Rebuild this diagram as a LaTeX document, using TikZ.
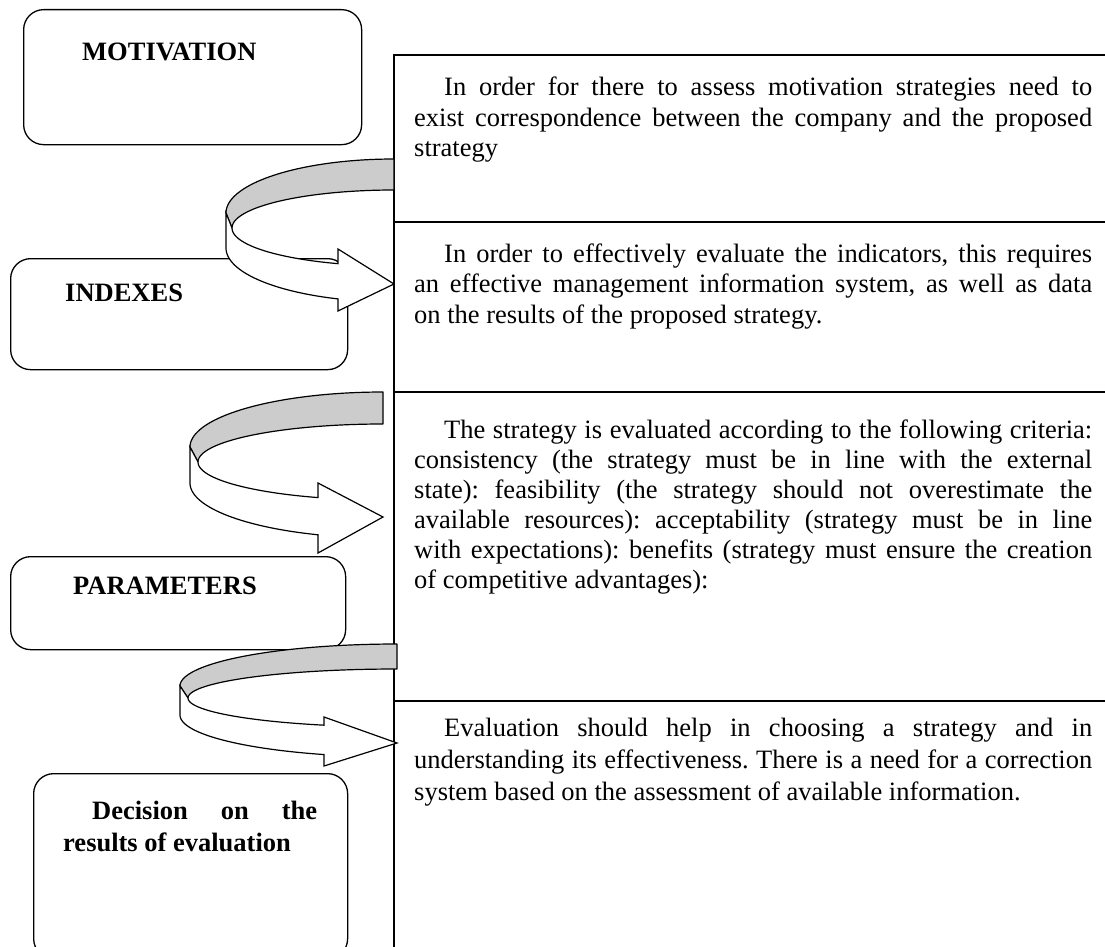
\documentclass[tikz,border=0pt]{standalone}
\usepackage{fontspec}
\setmainfont{Liberation Serif}
\tolerance=10000
\hbadness=10000
\emergencystretch=0pt
\frenchspacing

% parameters of a curved ribbon arrow
\pgfkeys{/rib/.is family,
  /rib/xr/.store in=\rbXr,  /rib/yo/.store in=\rbYo,
  /rib/a/.store in=\rbA,    /rib/b/.store in=\rbB,
  /rib/t/.store in=\rbT,    /rib/yi/.store in=\rbYi,
  /rib/ai/.store in=\rbAi,  /rib/bi/.store in=\rbBi,
  /rib/xb/.store in=\rbXb,  /rib/top/.store in=\rbHt,
  /rib/bot/.store in=\rbHb, /rib/tip/.store in=\rbTip}

% #1 name of the tip coordinate, #2 geometry keys
\newcommand\ribbonarrow[2]{%
  \pgfkeys{/rib,#2}%
  \pgfmathsetmacro\rbTb{acos((\rbXb-\rbXr)/\rbA)}%
  \pgfmathsetmacro\rbTi{acos((\rbXb-\rbXr)/\rbAi)}%
  % back (grey) face of the ribbon
  \filldraw[ribbon back] (\rbXr,\rbYo-\rbB)
    -- plot[domain=270:180,samples=50] ({\rbXr+\rbA*cos(\x)},{\rbYo+\rbB*sin(\x)})
    -- (\rbXr-\rbAi,\rbYi)
    -- plot[domain=180:270,samples=50] ({\rbXr+\rbAi*cos(\x)},{\rbYi+\rbBi*sin(\x)})
    -- cycle;
  % front (white) face with the arrow head
  \filldraw[ribbon front] (\rbXr-\rbA,\rbYo) -- (\rbXr-\rbA,\rbYo+\rbT)
    -- plot[domain=180:\rbTb,samples=50] ({\rbXr+\rbA*cos(\x)},{\rbYo+\rbT+\rbB*sin(\x)})
    -- (\rbXb,\rbHb) -- (\rbXr,\rbTip) coordinate (#1) -- (\rbXb,\rbHt)
    -- plot[domain=\rbTi:180,samples=50] ({\rbXr+\rbAi*cos(\x)},{\rbYi+\rbBi*sin(\x)})
    -- cycle;
}

\begin{document}
\begin{tikzpicture}[x=1pt,y=-1pt,
  box/.style={draw, line width=1.3pt, rounded corners=20pt, inner sep=0pt},
  panel/.style={draw, line width=1.4pt},
  ribbon back/.style={fill=gray!40, draw, line width=1.2pt, line join=round},
  ribbon front/.style={fill=white, draw, line width=1.2pt, line join=miter},
  label text/.style={inner sep=0pt, anchor=base west,
    font=\bfseries\fontsize{26.5}{32}\selectfont},
  panel text/.style={inner sep=0pt, anchor=base west, text width=678pt,
    align=justify, font=\fontsize{26.5}{30.5}\selectfont}]

\useasboundingbox (0,0) rectangle (1105,947);

% left boxes
\node[box, anchor=north west, minimum width=338pt, minimum height=135pt] (motbox) at (23,9) {};
\node[box, anchor=north west, minimum width=337pt, minimum height=111pt] (idxbox) at (10,258) {};
\node[box, anchor=north west, minimum width=335pt, minimum height=93pt] (parbox) at (10,556) {};
\node[box, anchor=north west, minimum width=314pt, minimum height=185pt] (decbox) at (33,773) {};

% right panel frame
\draw[panel] (394,947) -- (394,55) -- (1105,55);
\draw[panel] (394,222) -- (1105,222);
\draw[panel] (394,392) -- (1105,392);
\draw[panel] (394,701) -- (1105,701);

% curved arrows
\ribbonarrow{tipA}{xr=394, yo=213, a=168, b=54, t=35, yi=228, ai=162, bi=38,
  xb=338, top=249, bot=311, tip=284}
\ribbonarrow{tipB}{xr=383, yo=447, a=193, b=55, t=36, yi=462, ai=185, bi=38,
  xb=318, top=483, bot=553, tip=517}
\ribbonarrow{tipC}{xr=397, yo=686, a=217, b=42, t=29, yi=698, ai=209, bi=29,
  xb=324, top=717, bot=766, tip=743}

% box labels
\node[label text] (motivation) at (82,61) {MOTIVATION};
\node[label text] (indexes) at (65,301) {INDEXES};
\node[label text] (parameters) at (73,594) {PARAMETERS};
\node[label text, text width=254pt, align=justify] (decision) at (63,819)
  {\noindent\hspace*{29pt}Decision on the\linebreak results of evaluation};

% panel texts
\node[panel text] (textA) at (414,96)
  {\noindent\hspace*{30pt}In order for there to assess motivation strategies need to\linebreak
   exist correspondence between the company and the proposed\linebreak strategy};
\node[panel text] (textB) at (414,262)
  {\noindent\hspace*{30pt}In order to effectively evaluate the indicators, this requires\linebreak
   an effective management information system, as well as data\linebreak
   on the results of the proposed strategy.};
\node[panel text, font=\fontsize{26.5}{30}\selectfont] (textC) at (414,438)
  {\noindent\hspace*{30pt}The strategy is evaluated according to the following criteria:\linebreak
   consistency (the strategy must be in line with the external\linebreak
   state): feasibility (the strategy should not overestimate the\linebreak
   available resources): acceptability (strategy must be in line\linebreak
   with expectations): benefits (strategy must ensure the creation\linebreak
   of competitive advantages):};
\node[panel text, font=\fontsize{26.5}{32}\selectfont] (textD) at (414,736)
  {\noindent\hspace*{30pt}Evaluation should help in choosing a strategy and in\linebreak
   understanding its effectiveness. There is a need for a correction\linebreak
   system based on the assessment of available information.};
\end{tikzpicture}
\end{document}
